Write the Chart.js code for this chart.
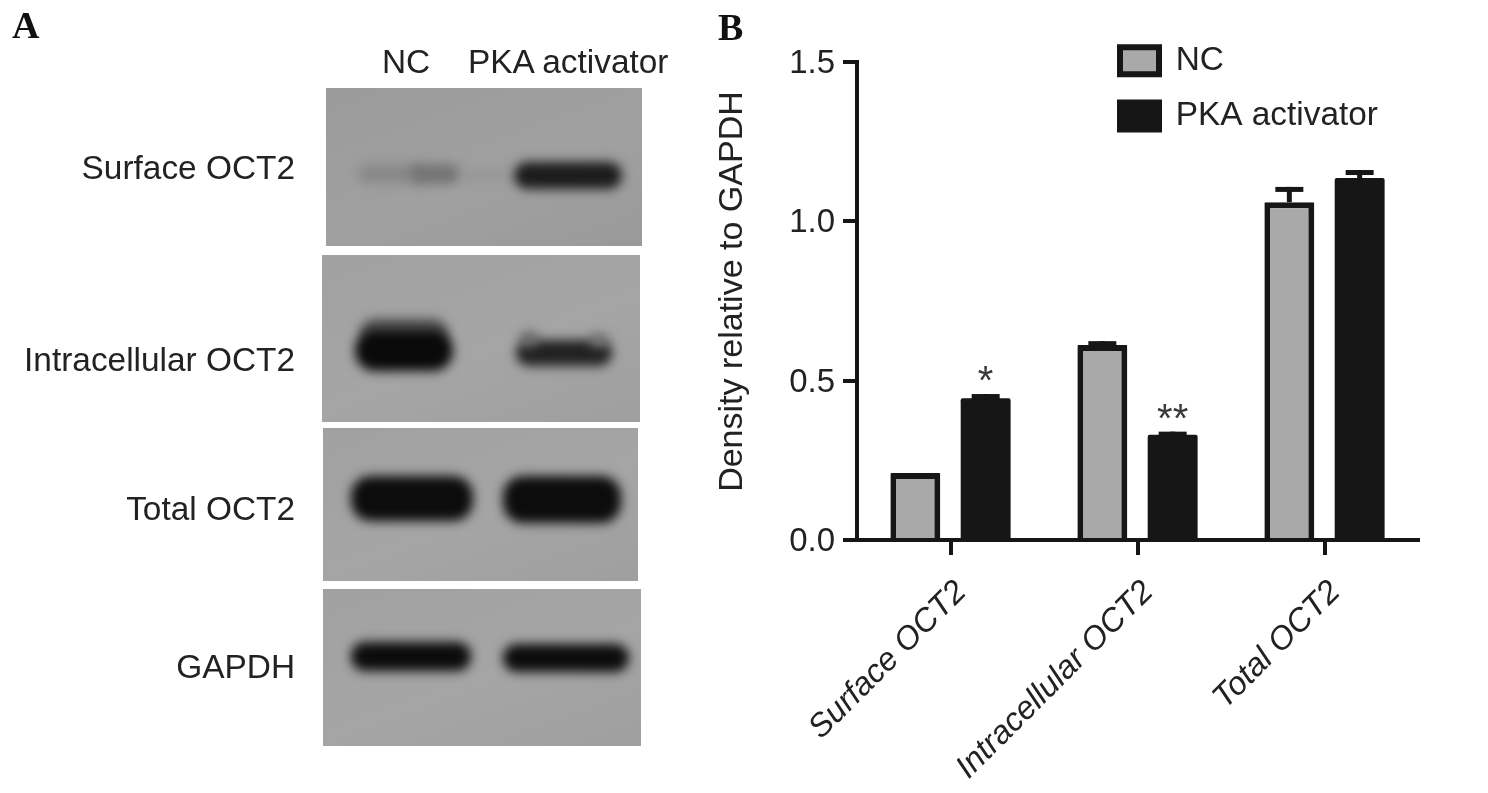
<!DOCTYPE html>
<html>
<head>
<meta charset="utf-8">
<title>OCT2 density</title>
<script src="https://cdn.jsdelivr.net/npm/chart.js@4/dist/chart.umd.min.js"></script>
<style>
html, body { margin: 0; padding: 0; background: #fff; width: 1488px; height: 793px; overflow: hidden; }
body { position: relative; font-family: "Liberation Sans", Arial, sans-serif; color: #222; }
#chart { position: absolute; left: 700px; top: 0; filter: blur(0.5px); }
.txt { position: absolute; font-size: 33.4px; line-height: 40px; white-space: nowrap; filter: blur(0.4px); }
.row { right: 1193px; text-align: right; }
.panel { position: absolute; font: bold 38px "Liberation Serif", serif; color: #111; filter: blur(0.4px); }
.blot { position: absolute; overflow: hidden; background: linear-gradient(160deg, #a1a1a1, #a5a5a5 55%, #9f9f9f); }
.band { position: absolute; background: #111; border-radius: 20px; filter: blur(5.5px); }
</style>
</head>
<body>
<div class="panel" style="left:12px;top:3px">A</div>
<div class="panel" style="left:718px;top:5px">B</div>

<div class="txt" style="left:382px;top:42px">NC</div>
<div class="txt" style="left:468px;top:42px">PKA activator</div>
<div class="txt row" style="top:148px">Surface OCT2</div>
<div class="txt row" style="top:340px">Intracellular OCT2</div>
<div class="txt row" style="top:489px">Total OCT2</div>
<div class="txt row" style="top:647px">GAPDH</div>

<div class="blot" style="left:326px;top:88px;width:316px;height:158px;background:linear-gradient(160deg,#9b9b9b,#a0a0a0 55%,#9a9a9a)">
  <div class="band" style="left:32px;top:76px;width:66px;height:19px;background:#888"></div>
  <div class="band" style="left:84px;top:76px;width:50px;height:20px;background:#747474"></div>
  <div class="band" style="left:136px;top:82px;width:50px;height:10px;background:#959595"></div>
  <div class="band" style="left:188px;top:74px;width:108px;height:27px;background:#1c1c1c"></div>
</div>
<div class="blot" style="left:322px;top:255px;width:318px;height:167px">
  <div class="band" style="left:38px;top:64px;width:88px;height:30px;background:#4a4a4a"></div>
  <div class="band" style="left:33px;top:76px;width:98px;height:40px;background:#090909"></div>
  <div class="band" style="left:194px;top:85px;width:96px;height:26px;background:#222"></div>
  <div class="band" style="left:198px;top:76px;width:18px;height:16px;background:#6a6a6a"></div>
  <div class="band" style="left:268px;top:78px;width:18px;height:14px;background:#777"></div>
</div>
<div class="blot" style="left:323px;top:428px;width:315px;height:153px">
  <div class="band" style="left:28px;top:48px;width:122px;height:45px;background:#0c0c0c"></div>
  <div class="band" style="left:180px;top:48px;width:118px;height:47px;background:#0c0c0c"></div>
</div>
<div class="blot" style="left:323px;top:589px;width:318px;height:157px">
  <div class="band" style="left:28px;top:53px;width:120px;height:29px;background:#0c0c0c;border-radius:14px"></div>
  <div class="band" style="left:180px;top:55px;width:126px;height:28px;background:#0c0c0c;border-radius:14px"></div>
</div>

<canvas id="chart" width="788" height="793"></canvas>

<script>
var categories = ['Surface OCT2', 'Intracellular OCT2', 'Total OCT2'];
var seriesNames = ['NC', 'PKA activator'];
var ncValues = [0.21, 0.612, 1.06];
var pkaValues = [0.445, 0.33, 1.136];
var ncErrors = [0, 0.012, 0.048];
var pkaErrors = [0.013, 0.01, 0.025];
var pkaStars = ['*', '**', ''];
var yTicks = [0, 0.5, 1.0, 1.5];

var ink = '#161616';
var textColor = '#222';

// error bars and stars, read from the bar elements
var errorBars = {
	id: 'errorBars',
	afterDatasetsDraw: function(chart) {
		var ctx = chart.ctx;
		var y = chart.scales.y;
		[ncErrors, pkaErrors].forEach(function(errors, i) {
			var meta = chart.getDatasetMeta(i);
			var values = chart.data.datasets[i].data;
			meta.data.forEach(function(bar, j) {
				if (!errors[j]) return;
				var top = y.getPixelForValue(values[j] + errors[j]);
				ctx.fillStyle = ink;
				ctx.fillRect(bar.x - 2.5, top, 5, bar.y - top);
				ctx.fillRect(bar.x - 14, top, 28, 5);
			});
		});
		// significance marks over the PKA bars
		var meta = chart.getDatasetMeta(1);
		ctx.fillStyle = '#3a3a3a';
		ctx.font = '40px "Liberation Sans"';
		ctx.textAlign = 'center';
		ctx.textBaseline = 'top';
		meta.data.forEach(function(bar, j) {
			if (!pkaStars[j]) return;
			var top = y.getPixelForValue(pkaValues[j] + pkaErrors[j]);
			ctx.fillText(pkaStars[j], bar.x, top - 31);
		});
	}
};

// legend sits inside the plot, top right
var moveLegend = {
	id: 'moveLegend',
	afterLayout: function(chart) {
		chart.legend.left = 398;
		chart.legend.top = 22;
	}
};

new Chart(document.getElementById('chart'), {
	type: 'bar',
	data: {
		labels: categories,
		datasets: [{
			label: seriesNames[0],
			data: ncValues,
			backgroundColor: '#a9a9a9',
			borderColor: ink,
			borderWidth: 6,
			borderRadius: 1
		}, {
			label: seriesNames[1],
			data: pkaValues,
			backgroundColor: ink,
			borderWidth: 0,
			borderRadius: 2
		}]
	},
	plugins: [errorBars, moveLegend],
	options: {
		responsive: false,
		animation: false,
		events: [],
		layout: { padding: { top: 62, right: 70, bottom: 0, left: 0 } },
		datasets: { bar: { categoryPercentage: 0.752, barPercentage: 0.71 } },
		plugins: {
			tooltip: { enabled: false },
			legend: {
				position: 'chartArea',
				align: 'start',
				labels: {
					boxWidth: 39,
					boxHeight: 27,
					padding: 22,
					color: textColor,
					font: { family: 'Liberation Sans', size: 33.4 },
					// both swatches keep the thick dark outline
					generateLabels: function(chart) {
						var items = Chart.defaults.plugins.legend.labels.generateLabels(chart);
						items.forEach(function(item) {
							item.lineWidth = 6;
							item.strokeStyle = ink;
						});
						return items;
					}
				}
			}
		},
		scales: {
			x: {
				afterFit: function(scale) { scale.height = 253; },
				border: { color: ink, width: 4 },
				grid: { offset: false, drawOnChartArea: false, color: ink, lineWidth: 4, tickLength: 15 },
				ticks: {
					autoSkip: false,
					minRotation: 45,
					maxRotation: 45,
					padding: 18,
					labelOffset: 11,
					color: textColor,
					font: { family: 'Liberation Sans', size: 32.5, style: 'italic' }
				}
			},
			y: {
				min: 0,
				max: 1.5,
				afterFit: function(scale) { scale.width = 157; },
				afterBuildTicks: function(scale) {
					scale.ticks = yTicks.map(function(v) { return { value: v }; });
				},
				border: { color: ink, width: 4 },
				grid: { drawOnChartArea: false, color: ink, lineWidth: 4, tickLength: 14 },
				title: {
					display: true,
					text: '  Density relative to GAPDH',
					color: textColor,
					padding: { top: 12, bottom: 0 },
					font: { family: 'Liberation Sans', size: 34 }
				},
				ticks: {
					padding: 8,
					labelOffset: 2,
					color: textColor,
					font: { family: 'Liberation Sans', size: 33 },
					callback: function(v) { return v.toFixed(1); }
				}
			}
		}
	}
});
</script>
</body>
</html>
